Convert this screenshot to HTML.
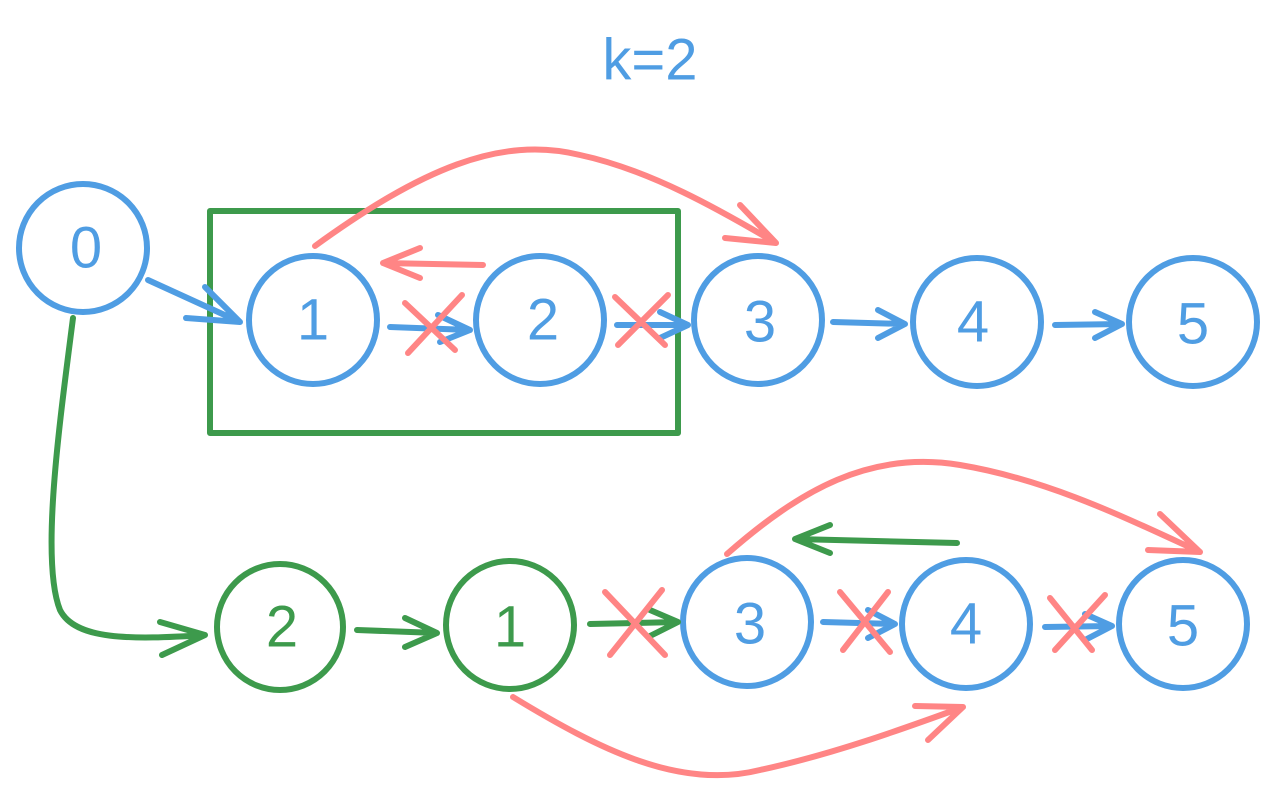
<!DOCTYPE html>
<html><head><meta charset="utf-8"><style>
html,body{margin:0;padding:0;background:#fff;}
svg{display:block;}
text{font-family:"Liberation Sans",sans-serif;font-size:58px;text-anchor:middle;dominant-baseline:central;}
</style></head><body>
<svg width="1278" height="796" viewBox="0 0 1278 796" xmlns="http://www.w3.org/2000/svg">
<g fill="none" stroke-width="6" stroke-linecap="round" stroke-linejoin="round">
<!-- title -->
<text x="650" y="60" fill="#4f9de3" stroke="none">k=2</text>
<!-- green rect -->
<rect x="210" y="211" width="468" height="222" stroke="#3d9a4c" stroke-width="6"/>
<!-- blue circles top -->
<g stroke="#4f9de3">
<circle cx="83" cy="248" r="64"/>
<circle cx="313" cy="320" r="64"/>
<circle cx="540" cy="320" r="64"/>
<circle cx="758" cy="320" r="64"/>
<circle cx="977" cy="322" r="64"/>
<circle cx="1193" cy="322" r="64"/>
<circle cx="747" cy="622" r="64"/>
<circle cx="966" cy="624" r="64"/>
<circle cx="1183" cy="624" r="64"/>
<!-- blue arrows -->
<path d="M148 280 L240 322 M186 318 L240 322 L205 287"/>
<path d="M390 327 L470 330 M438 315 L470 330 L440 342"/>
<path d="M617 325 L688 325 M660 312 L688 325 L660 338"/>
<path d="M833 322 L905 324 M878 310 L905 324 L878 338"/>
<path d="M1055 325 L1122 324 M1095 312 L1122 324 L1095 338"/>
<path d="M823 622 L895 624 M868 610 L895 624 L868 638"/>
<path d="M1045 627 L1112 626 M1085 614 L1112 626 L1085 640"/>
</g>
<!-- green circles -->
<g stroke="#3d9a4c">
<circle cx="280" cy="627" r="63"/>
<circle cx="510" cy="625" r="64"/>
<path d="M73 318 C60 420 40 560 60 610 C75 640 130 640 205 635 M160 622 L205 635 L162 655"/>
<path d="M357 630 L437 633 M405 618 L437 633 L405 647"/>
<path d="M590 624 L678 622 M650 610 L678 622 L650 636"/>
<path d="M957 543 L795 539 M830 525 L795 539 L830 553"/>
</g>
<!-- red -->
<g stroke="#ff8585">
<path d="M315 246 C420 170 500 135 580 155 C650 170 720 210 776 243 M740 205 L776 243 L725 238"/>
<path d="M483 265 L383 263 M420 248 L383 263 L420 278"/>
<path d="M727 554 C800 490 870 450 960 465 C1050 480 1130 520 1200 552 M1160 514 L1200 552 L1148 550"/>
<path d="M513 697 C600 750 680 790 760 770 C830 755 900 730 963 707 M915 706 L963 707 L928 740"/>
<!-- crosses -->
<path d="M405 303 L455 350 M408 353 L462 295"/>
<path d="M615 297 L665 345 M618 345 L668 295"/>
<path d="M605 592 L665 655 M610 655 L662 590"/>
<path d="M840 592 L890 652 M843 650 L888 592"/>
<path d="M1050 598 L1092 650 M1055 650 L1105 595"/>
</g>
</g>
<!-- labels -->
<g fill="#4f9de3">
<text x="86" y="248">0</text>
<text x="313" y="320">1</text>
<text x="543" y="320">2</text>
<text x="760" y="322">3</text>
<text x="973" y="322">4</text>
<text x="1193" y="324">5</text>
<text x="750" y="624">3</text>
<text x="966" y="624">4</text>
<text x="1183" y="626">5</text>
</g>
<g fill="#3d9a4c">
<text x="282" y="627">2</text>
<text x="510" y="627">1</text>
</g>
</svg>
</body></html>
